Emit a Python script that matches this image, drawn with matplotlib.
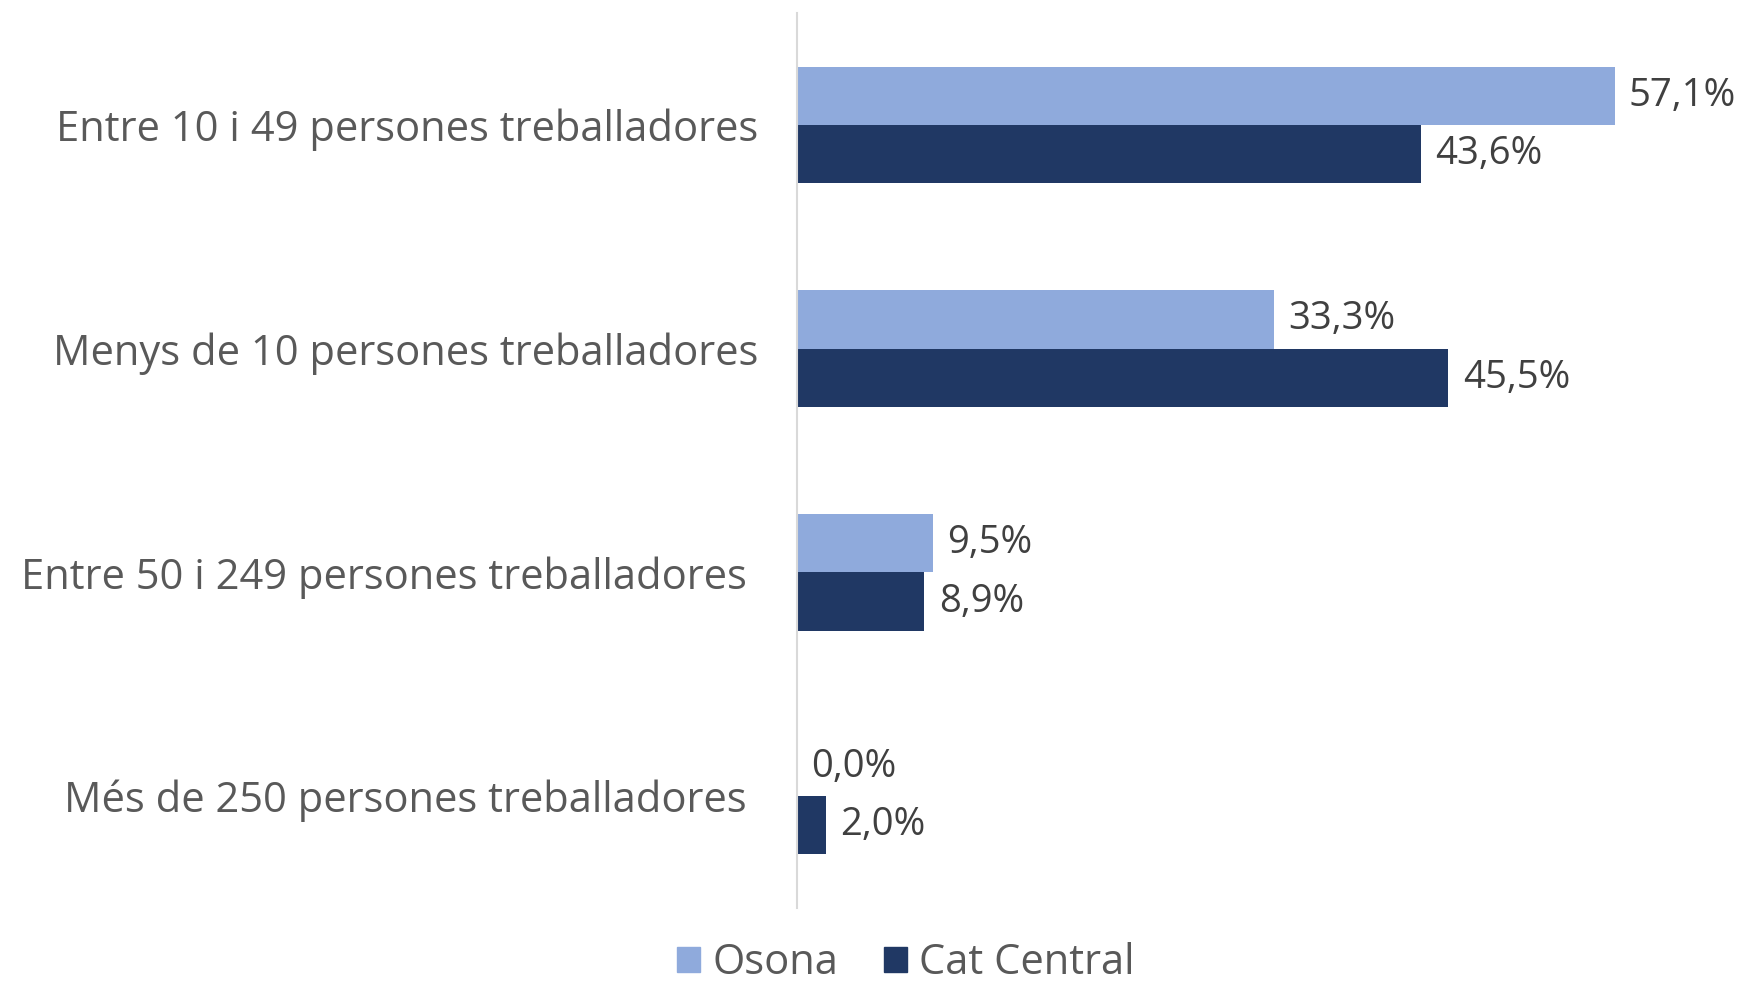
import numpy as np
import matplotlib.pyplot as plt
import matplotlib.transforms as mtransforms
from matplotlib.patches import Patch

plt.rcParams["font.family"] = ["Open Sans", "DejaVu Sans"]

categories = [
    "Entre 10 i 49 persones treballadores",
    "Menys de 10 persones treballadores",
    "Entre 50 i 249 persones treballadores",
    "Més de 250 persones treballadores",
]
osona = [57.1, 33.3, 9.5, 0.0]
cat_central = [43.6, 45.5, 8.9, 2.0]

light = "#8FAADC"
dark = "#203864"
text_col = "#595959"

fig = plt.figure(figsize=(17.42, 9.85), dpi=100)
ax = fig.add_axes([0.4575, 0.078, 0.5425, 0.909])

y = np.arange(len(categories))
h = 0.26
ax.barh(y - h / 2, osona, height=h, color=light, label="Osona")
ax.barh(y + h / 2, cat_central, height=h, color=dark, label="Cat Central")

def pct(v):
    return f"{v:.1f}".replace(".", ",") + "%"

for yi, v in zip(y, osona):
    ax.text(v + 1.0, yi - h / 2, pct(v), va="center", ha="left",
            fontsize=27.5, color="#404040")
for yi, v in zip(y, cat_central):
    ax.text(v + 1.0, yi + h / 2, pct(v), va="center", ha="left",
            fontsize=27.5, color="#404040")

ax.set_xlim(0, 66)
ax.set_ylim(3.5, -0.5)
ax.set_yticks(y)
ax.set_yticklabels(categories, fontsize=30, color=text_col)
ax.tick_params(axis="y", length=0, pad=28)
# the last two labels sit a little further left in the original
shift = mtransforms.ScaledTranslation(-11 / 100, 0, fig.dpi_scale_trans)
for lbl in ax.get_yticklabels()[2:]:
    lbl.set_transform(lbl.get_transform() + shift)
ax.set_xticks([])
for s in ["top", "right", "bottom"]:
    ax.spines[s].set_visible(False)
ax.spines["left"].set_color("#d9d9d9")
ax.spines["left"].set_linewidth(1.5)

handles = [Patch(color=light), Patch(color=dark)]
fig.legend(handles, ["Osona", "Cat Central"], loc="center",
           bbox_to_anchor=(0.52, 0.022), ncol=2, frameon=False, fontsize=30,
           labelcolor=text_col, handlelength=0.55, handleheight=0.55,
           handletextpad=0.3, columnspacing=1.1, borderpad=0.1)

fig.savefig("out.png", dpi=100)
